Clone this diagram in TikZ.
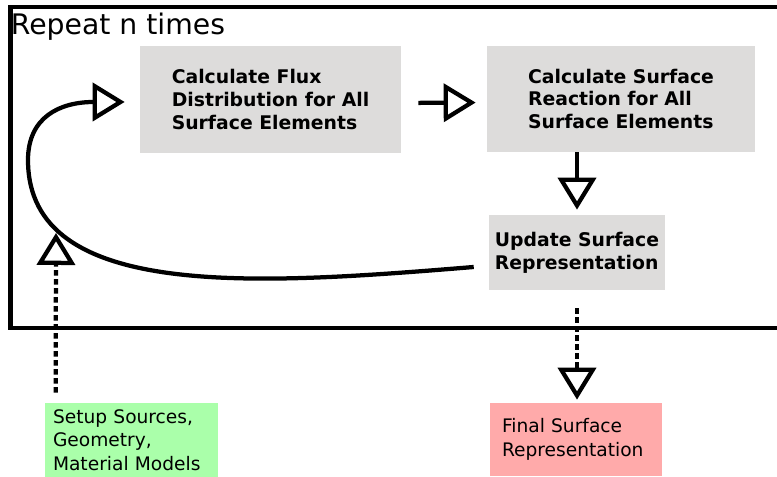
\documentclass[tikz,border=0pt]{standalone}
\usepackage{fontspec}
\setmainfont{DejaVu Sans}
\usetikzlibrary{arrows.meta}

\definecolor{stepgray}{RGB}{221,220,219}
\definecolor{startgreen}{RGB}{170,255,170}
\definecolor{endred}{RGB}{255,170,170}

\tikzset{
  flow/.style={line width=0.085cm,-{Triangle[open,length=0.64cm,width=0.76cm]}},
  dashflow/.style={flow,dash pattern=on 0.11cm off 0.07cm},
}

\begin{document}
\begin{tikzpicture}
      \useasboundingbox (0,0) rectangle (15.54,9.54);

      % loop frame, open to the right
      \draw[line width=0.09cm] (15.7,9.4) -- (0.21,9.4) -- (0.21,2.98) -- (15.7,2.98);
      \node[anchor=base west,inner sep=0,font=\fontsize{16.1}{18}\selectfont] (title) at (0.21,8.84) {Repeat n times};

      \begin{scope}[every node/.style={fill=stepgray,align=left,font=\fontsize{10.7}{13}\selectfont\bfseries}]
        \node[minimum width=5.22cm,minimum height=2.14cm] (flux)  at (5.41,7.55)  {Calculate Flux\\Distribution for All\\Surface Elements};
        \node[minimum width=5.36cm,minimum height=2.12cm] (react) at (12.42,7.56) {Calculate Surface\\Reaction for All\\Surface Elements};
        \node[minimum width=3.44cm,minimum height=1.5cm]  (upd)   at (11.54,4.49) {Update Surface\\Representation};
      \end{scope}

      \begin{scope}[every node/.style={align=left,inner ysep=0,font=\fontsize{10.6}{13.3}\selectfont}]
        \node[fill=startgreen,text width=3.14cm,inner xsep=0.16cm,minimum height=1.48cm] (setup) at (2.63,0.74)  {Setup Sources,\\Geometry,\\Material Models};
        \node[fill=endred,text width=2.96cm,inner xsep=0.24cm,minimum height=1.46cm]     (final) at (11.52,0.75) {Final Surface\\Representation};
      \end{scope}

      \coordinate (inlet) at (1.12,4.88);

      \draw[flow,shorten <=0.34cm,shorten >=0.22cm] ([yshift=-0.07cm]flux.east) -- ([yshift=-0.07cm]react.west);
      \draw[flow,shorten >=0.1cm] (react.south -| upd.north) -- (upd.north);
      \draw[flow] ([xshift=-0.3cm,yshift=-0.29cm]upd.west)
        .. controls (5.2,3.85) and (0.56,3.5) .. (0.56,6.34)
        .. controls (0.56,7.2) and (1.2,7.5) .. ([xshift=-0.3cm,yshift=-0.05cm]flux.west);
      \draw[dashflow,shorten <=0.2cm] ([xshift=0.22cm]setup.north west) -- (inlet);
      \draw[dashflow,shorten <=0.36cm,shorten >=0.06cm] (upd.south) -- (upd.south |- final.north);

\end{tikzpicture}
\end{document}
